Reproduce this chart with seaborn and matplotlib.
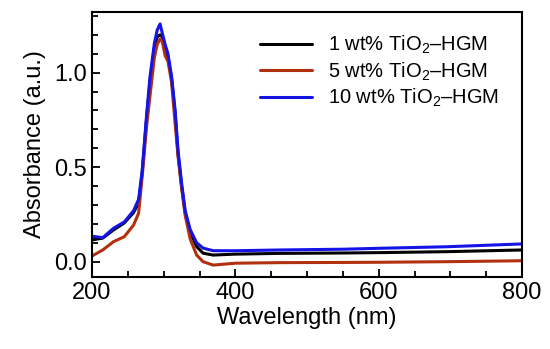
import pandas as pd
import matplotlib
matplotlib.use('Agg')
import matplotlib.pyplot as plt
import seaborn as sns
from matplotlib.ticker import MultipleLocator

# wavelength grid (nm) and absorbance
wavelength = [200, 215, 230, 245, 258, 265, 270, 276, 281, 287, 291, 295, 298, 302,
              306, 311, 316, 320, 325, 330, 337, 346, 355, 369, 400, 462, 550, 602,
              695, 800]
abs_1wt = [0.115, 0.125, 0.168, 0.205, 0.26, 0.31, 0.47, 0.75, 0.96, 1.13, 1.19, 1.20,
           1.19, 1.13, 1.08, 0.97, 0.78, 0.57, 0.40, 0.26, 0.155, 0.08, 0.045, 0.035,
           0.04, 0.044, 0.046, 0.048, 0.053, 0.062]
abs_5wt = [0.03, 0.062, 0.106, 0.132, 0.194, 0.256, 0.45, 0.71, 0.88, 1.08, 1.15, 1.178,
           1.165, 1.09, 1.06, 0.95, 0.73, 0.56, 0.39, 0.245, 0.12, 0.035, 0.0, -0.018,
           -0.008, -0.005, -0.004, -0.003, 0.0, 0.005]
abs_10wt = [0.135, 0.127, 0.177, 0.21, 0.27, 0.33, 0.48, 0.77, 0.98, 1.155, 1.226, 1.258,
            1.21, 1.15, 1.10, 0.98, 0.80, 0.59, 0.415, 0.27, 0.17, 0.10, 0.072, 0.058,
            0.058, 0.062, 0.066, 0.071, 0.079, 0.094]

labels = ['1 wt% TiO$_2$\u2013HGM', '5 wt% TiO$_2$\u2013HGM', '10 wt% TiO$_2$\u2013HGM']
colors = ['#000000', '#b0300f', '#1414e6']

frames = []
for lab, vals in zip(labels, [abs_1wt, abs_5wt, abs_10wt]):
    frames.append(pd.DataFrame({'Wavelength': wavelength, 'Absorbance': vals, 'Sample': lab}))
df = pd.concat(frames, ignore_index=True)

sns.set_style('ticks', {'axes.edgecolor': 'black', 'text.color': 'black',
                        'axes.labelcolor': 'black', 'xtick.color': 'black',
                        'ytick.color': 'black'})
plt.rcParams['font.family'] = ['Liberation Sans', 'DejaVu Sans']
plt.rcParams['mathtext.fontset'] = 'custom'
plt.rcParams['mathtext.rm'] = 'Liberation Sans'

fig = plt.figure(figsize=(5.5, 3.49), dpi=100)
ax = fig.add_axes([0.1673, 0.2063, 0.7818, 0.7593])

sns.lineplot(data=df, x='Wavelength', y='Absorbance', hue='Sample',
             palette=dict(zip(labels, colors)), linewidth=2.2, ax=ax, sort=False)

ax.set_xlim(200, 800)
ax.set_ylim(-0.081, 1.321)
ax.xaxis.set_major_locator(MultipleLocator(200))
ax.xaxis.set_minor_locator(MultipleLocator(50))
ax.yaxis.set_major_locator(MultipleLocator(0.5))
ax.yaxis.set_minor_locator(MultipleLocator(0.1))
ax.tick_params(which='both', direction='in', width=1.3, labelsize=17, top=False, right=False)
ax.tick_params(which='major', length=6)
ax.tick_params(which='minor', length=4)
for s in ax.spines.values():
    s.set_linewidth(1.5)
    s.set_visible(True)

ax.set_xlabel('Wavelength (nm)', fontsize=17, labelpad=2)
ax.set_ylabel('Absorbance (a.u.)', fontsize=17, labelpad=6)

leg = ax.legend(loc='upper right', bbox_to_anchor=(0.99, 0.985), frameon=False, fontsize=14.5,
                handlelength=2.6, handletextpad=0.8, labelspacing=0.2)
for h in leg.get_lines():
    h.set_linewidth(2.2)

fig.savefig('out.png', dpi=100)
